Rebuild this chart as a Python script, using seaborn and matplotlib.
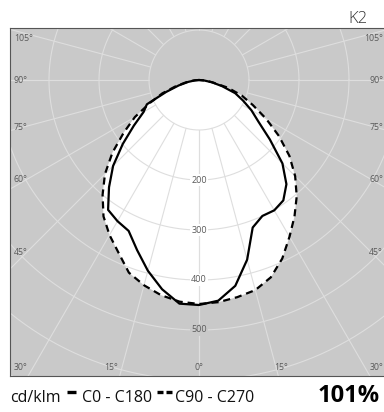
import numpy as np
import pandas as pd
import seaborn as sns
import matplotlib.pyplot as plt
from matplotlib import font_manager
from matplotlib.lines import Line2D

# Lichtstärkeverteilung (cd/klm) je Halbebene, gamma 0..90°
gamma = [0, 5, 10, 15, 20, 25, 30, 35, 40, 45, 50, 55, 60, 65, 70, 75, 80, 85, 90]
c0 = [450, 443, 418, 372, 314, 300, 301, 294, 272, 236, 185, 145, 121, 97, 77, 48, 26, 10, 0]
c180 = [450, 449, 425, 395, 362, 333, 326, 317, 280, 243, 199, 159, 128, 115, 70, 42, 22, 8, 0]
c90 = [449, 446, 441, 435, 420, 394, 362, 333, 304, 272, 236, 195, 155, 119, 91, 60, 28, 12, 0]
c270 = [448, 445, 437, 425, 410, 381, 358, 333, 300, 266, 226, 184, 148, 108, 78, 48, 26, 10, 0]

ring_values = [100, 200, 300, 400, 500, 600, 700, 800]
ring_labels = [200, 300, 400, 500]
side_angles = [105, 90, 75, 60, 45]
bottom_angles = [30, 15, 0, 15, 30]

available = {f.name for f in font_manager.fontManager.ttflist}
txt_font = 'Liberation Sans Narrow' if 'Liberation Sans Narrow' in available else 'Open Sans'


def polar_xy(g, r, side):
    t = np.radians(np.asarray(g, dtype=float))
    r = np.asarray(r, dtype=float)
    return side * r * np.sin(t), -r * np.cos(t)


rows = []
for name, left, right in [('C0 - C180', c180, c0), ('C90 - C270', c270, c90)]:
    xl, yl = polar_xy(gamma[::-1], left[::-1], -1)
    xr, yr = polar_xy(gamma[1:], right[1:], 1)
    xs = np.concatenate([xl, xr])
    ys = np.concatenate([yl, yr])
    for i, (x, y) in enumerate(zip(xs, ys)):
        rows.append({'curve': name, 'order': i, 'x': x, 'y': y})
df = pd.DataFrame(rows)

sns.set_style('white')
fig = plt.figure(figsize=(3.84, 4.12), dpi=100)
ax = fig.add_axes([10 / 384, 1 - 376 / 412, 378 / 384, 348 / 412])
ax.set_facecolor('#c9c9c9')
ax.set_xlim(-378, 378)
ax.set_ylim(-592, 104)

# weiße Fläche innerhalb der Kurven
for name, grp in df.groupby('curve'):
    ax.fill(grp['x'], grp['y'], color='white', zorder=1, lw=0)

# Raster: Kreise und Strahlen
grid_c = '#dedede'
phi = np.linspace(0, 2 * np.pi, 400)
for rv in ring_values:
    ax.plot(rv * np.cos(phi), rv * np.sin(phi), color=grid_c, lw=0.8, zorder=2)
for a in range(0, 181, 15):
    for s in (-1, 1):
        gx, gy = polar_xy([a, a], [100, 1000], s)
        ax.plot(gx, gy, color=grid_c, lw=0.8, zorder=2)

sns.lineplot(data=df, x='x', y='y', style='curve', units='curve', estimator=None,
             sort=False, color='black', linewidth=1.6,
             dashes={'C0 - C180': '', 'C90 - C270': (3.2, 2.2)},
             legend=False, ax=ax, zorder=3)

lab_c = '#5a5a5a'
for rv in ring_labels:
    fc = 'white' if rv < 450 else '#c9c9c9'
    ax.text(0, -rv, str(rv), ha='center', va='center', fontsize=6.5, color=lab_c,
            family=txt_font, zorder=4,
            bbox=dict(boxstyle='square,pad=0.15', fc=fc, ec='none'))

side_y = [84, 0, -94, -198, -344]
for a, yy in zip(side_angles, side_y):
    ax.text(-370, yy, f'{a}°', ha='left', va='center', fontsize=6.3, color=lab_c,
            family=txt_font, zorder=4)
    ax.text(368, yy, f'{a}°', ha='right', va='center', fontsize=6.3, color=lab_c,
            family=txt_font, zorder=4)
bottom_x = [-356, -176, 0, 164, 356]
for a, xx in zip(bottom_angles, bottom_x):
    ax.text(xx, -576, f'{a}°', ha='center', va='center', fontsize=6.3, color=lab_c,
            family=txt_font, zorder=4)

ax.set_xticks([])
ax.set_yticks([])
ax.set_xlabel('')
ax.set_ylabel('')
for sp in ['left', 'top', 'bottom']:
    ax.spines[sp].set_color('#555555')
    ax.spines[sp].set_linewidth(0.8)
ax.spines['right'].set_visible(False)

# Kopf und Fußzeile
fig.text(367 / 384, 1 - 23 / 412, 'K2', ha='right', va='baseline', fontsize=12,
         fontweight='light', color='#333333', family=txt_font)

base = 1 - 402 / 412
fig.canvas.draw()
rend = fig.canvas.get_renderer()


def put(x_px, s, **kw):
    t = fig.text(x_px / 384, base, s, ha='left', va='baseline', fontsize=11.5,
                 color='#111111', family=txt_font, **kw)
    bb = t.get_window_extent(rend)
    return bb.x1


x = put(10, 'cd/klm')
fig.add_artist(Line2D([(x + 6) / 384, (x + 15) / 384], [1 - 392 / 412] * 2,
                      color='black', lw=2.4, solid_capstyle='butt'))
x = put(x + 21, 'C0 - C180')
for k in range(2):
    x0 = x + 5 + k * 9
    fig.add_artist(Line2D([x0 / 384, (x0 + 6) / 384], [1 - 392 / 412] * 2,
                          color='black', lw=2.4, solid_capstyle='butt'))
x = put(x + 23, 'C90 - C270')

fig.text(380 / 384, base, '101%', ha='right', va='baseline', fontsize=17,
         fontweight='bold', color='black', family=txt_font)

fig.savefig('out.png', dpi=100)
